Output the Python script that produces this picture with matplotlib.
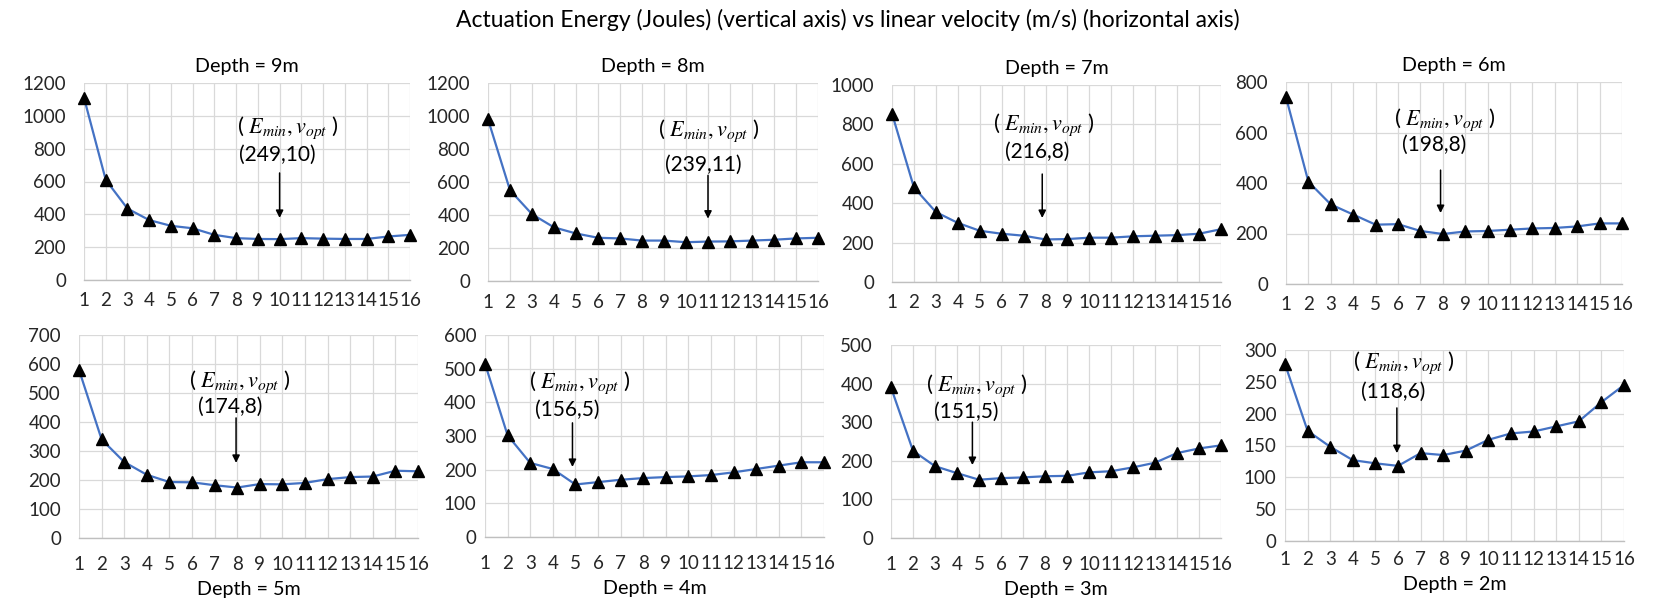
import matplotlib
matplotlib.use("Agg")
import matplotlib.pyplot as plt

plt.rcParams['font.family'] = ['Lato', 'DejaVu Sans']
plt.rcParams['mathtext.fontset'] = 'stix'

# ---------------- data ----------------
velocity = list(range(1, 17))
depth_labels = ["Depth = 9m", "Depth = 8m", "Depth = 7m", "Depth = 6m",
                "Depth = 5m", "Depth = 4m", "Depth = 3m", "Depth = 2m"]

energy_9m = [1110, 610, 435, 365, 330, 315, 275, 255, 250, 249, 255, 252, 250, 250, 265, 275]
energy_8m = [980, 550, 405, 325, 288, 262, 258, 245, 245, 235, 239, 240, 245, 250, 258, 262]
energy_7m = [855, 480, 355, 300, 260, 245, 235, 216, 218, 225, 225, 232, 235, 238, 245, 268]
energy_6m = [740, 405, 315, 275, 235, 237, 210, 198, 208, 210, 215, 220, 222, 228, 240, 240]
energy_5m = [580, 340, 262, 218, 193, 192, 182, 174, 186, 185, 190, 203, 210, 212, 232, 230]
energy_4m = [515, 302, 220, 202, 156, 163, 170, 175, 178, 180, 184, 192, 202, 212, 222, 222]
energy_3m = [390, 226, 186, 168, 151, 155, 157, 160, 161, 170, 173, 183, 195, 220, 232, 240]
energy_2m = [278, 173, 148, 127, 122, 118, 138, 135, 142, 159, 169, 172, 180, 188, 218, 245]

e_min = [249, 239, 216, 198, 174, 156, 151, 118]
v_opt = [10, 11, 8, 8, 8, 5, 5, 6]
y_max = [1200, 1200, 1000, 800, 700, 600, 500, 300]
y_step = [200, 200, 200, 200, 100, 100, 100, 50]

series = [energy_9m, energy_8m, energy_7m, energy_6m,
          energy_5m, energy_4m, energy_3m, energy_2m]

# ---------------- layout ----------------
W, H = 1661, 615
# axes rectangles in pixels: left, right, top, bottom
rects = [(84, 410, 83, 280), (488, 818, 83, 281), (892, 1221, 85, 282), (1286, 1622, 82, 284),
         (79, 418, 335, 538), (485, 824, 335, 537), (891, 1221, 345, 538), (1285, 1624, 350, 541)]
xpads = [9, 9, 9, 9, 13, 13, 13, 7]
ypads = [13, 13, 13, 13, 13, 6, 13, 6]
# annotation positions (data coords): label xy, value xy, arrow x, arrow top, arrow bottom
ann = [((10.4, 896), (9.9, 774), 10.0, 652, 378),
       ((11.05, 884), (10.8, 719), 11.0, 640, 378),
       ((7.95, 772), (7.6, 670), 7.85, 548, 325),
       ((8.1, 630), (7.6, 558), 7.9, 451, 281),
       ((8.1, 521), (7.7, 459), 7.95, 414, 259),
       ((5.2, 443), (4.65, 383), 4.87, 339, 208),
       ((4.9, 383), (4.4, 332), 4.7, 300, 189),
       ((6.27, 273), (5.8, 237), 5.95, 209, 138)]

fig = plt.figure(figsize=(W / 100, H / 100), dpi=100)
fig.text(848 / W, 1 - 20 / H,
         "Actuation Energy (Joules) (vertical axis) vs linear velocity (m/s) (horizontal axis)",
         ha='center', va='center', fontsize=16.5)

grid_c = '#d9d9d9'
for i in range(8):
    l, r, t, b = rects[i]
    ax = fig.add_axes([l / W, 1 - b / H, (r - l) / W, (b - t) / H])
    ax.plot(velocity, series[i], color='#4472C4', lw=1.6, marker='^', ms=8,
            mfc='black', mec='black', clip_on=False, zorder=3)
    ax.set_xlim(1, 16)
    ax.set_ylim(0, y_max[i])
    ax.set_xticks(velocity)
    ax.set_yticks(range(0, y_max[i] + 1, y_step[i]))
    ax.grid(True, color=grid_c, lw=0.9)
    ax.set_axisbelow(True)
    for s in ['top', 'right', 'left']:
        ax.spines[s].set_visible(False)
    ax.spines['bottom'].set_color('#bfbfbf')
    ax.spines['bottom'].set_linewidth(1.0)
    ax.tick_params(axis='both', length=0, labelsize=13.5, colors='#262626')
    ax.tick_params(axis='x', pad=xpads[i])
    ax.tick_params(axis='y', pad=ypads[i])
    if i < 4:
        ax.set_title(depth_labels[i], fontsize=14.2, pad=8)
    else:
        ax.set_xlabel(depth_labels[i], fontsize=14.2, labelpad=6)

    (lx, ly), (vx, vy), axx, atop, abot = ann[i]
    ax.annotate(r"( $E_{min}, v_{opt}$ )", xy=(lx, ly), xytext=(0, 3.5),
                textcoords='offset points', ha='center', va='center', fontsize=16)
    ax.annotate(f"({e_min[i]},{v_opt[i]})", xy=(vx, vy), xytext=(0, -1.5),
                textcoords='offset points', ha='center', va='center', fontsize=15)
    ax.annotate("", xy=(axx, abot), xytext=(axx, atop),
                arrowprops=dict(arrowstyle='-|>', color='black', lw=1.1,
                                mutation_scale=11, shrinkA=0, shrinkB=0))

fig.savefig("out.png", dpi=100)
